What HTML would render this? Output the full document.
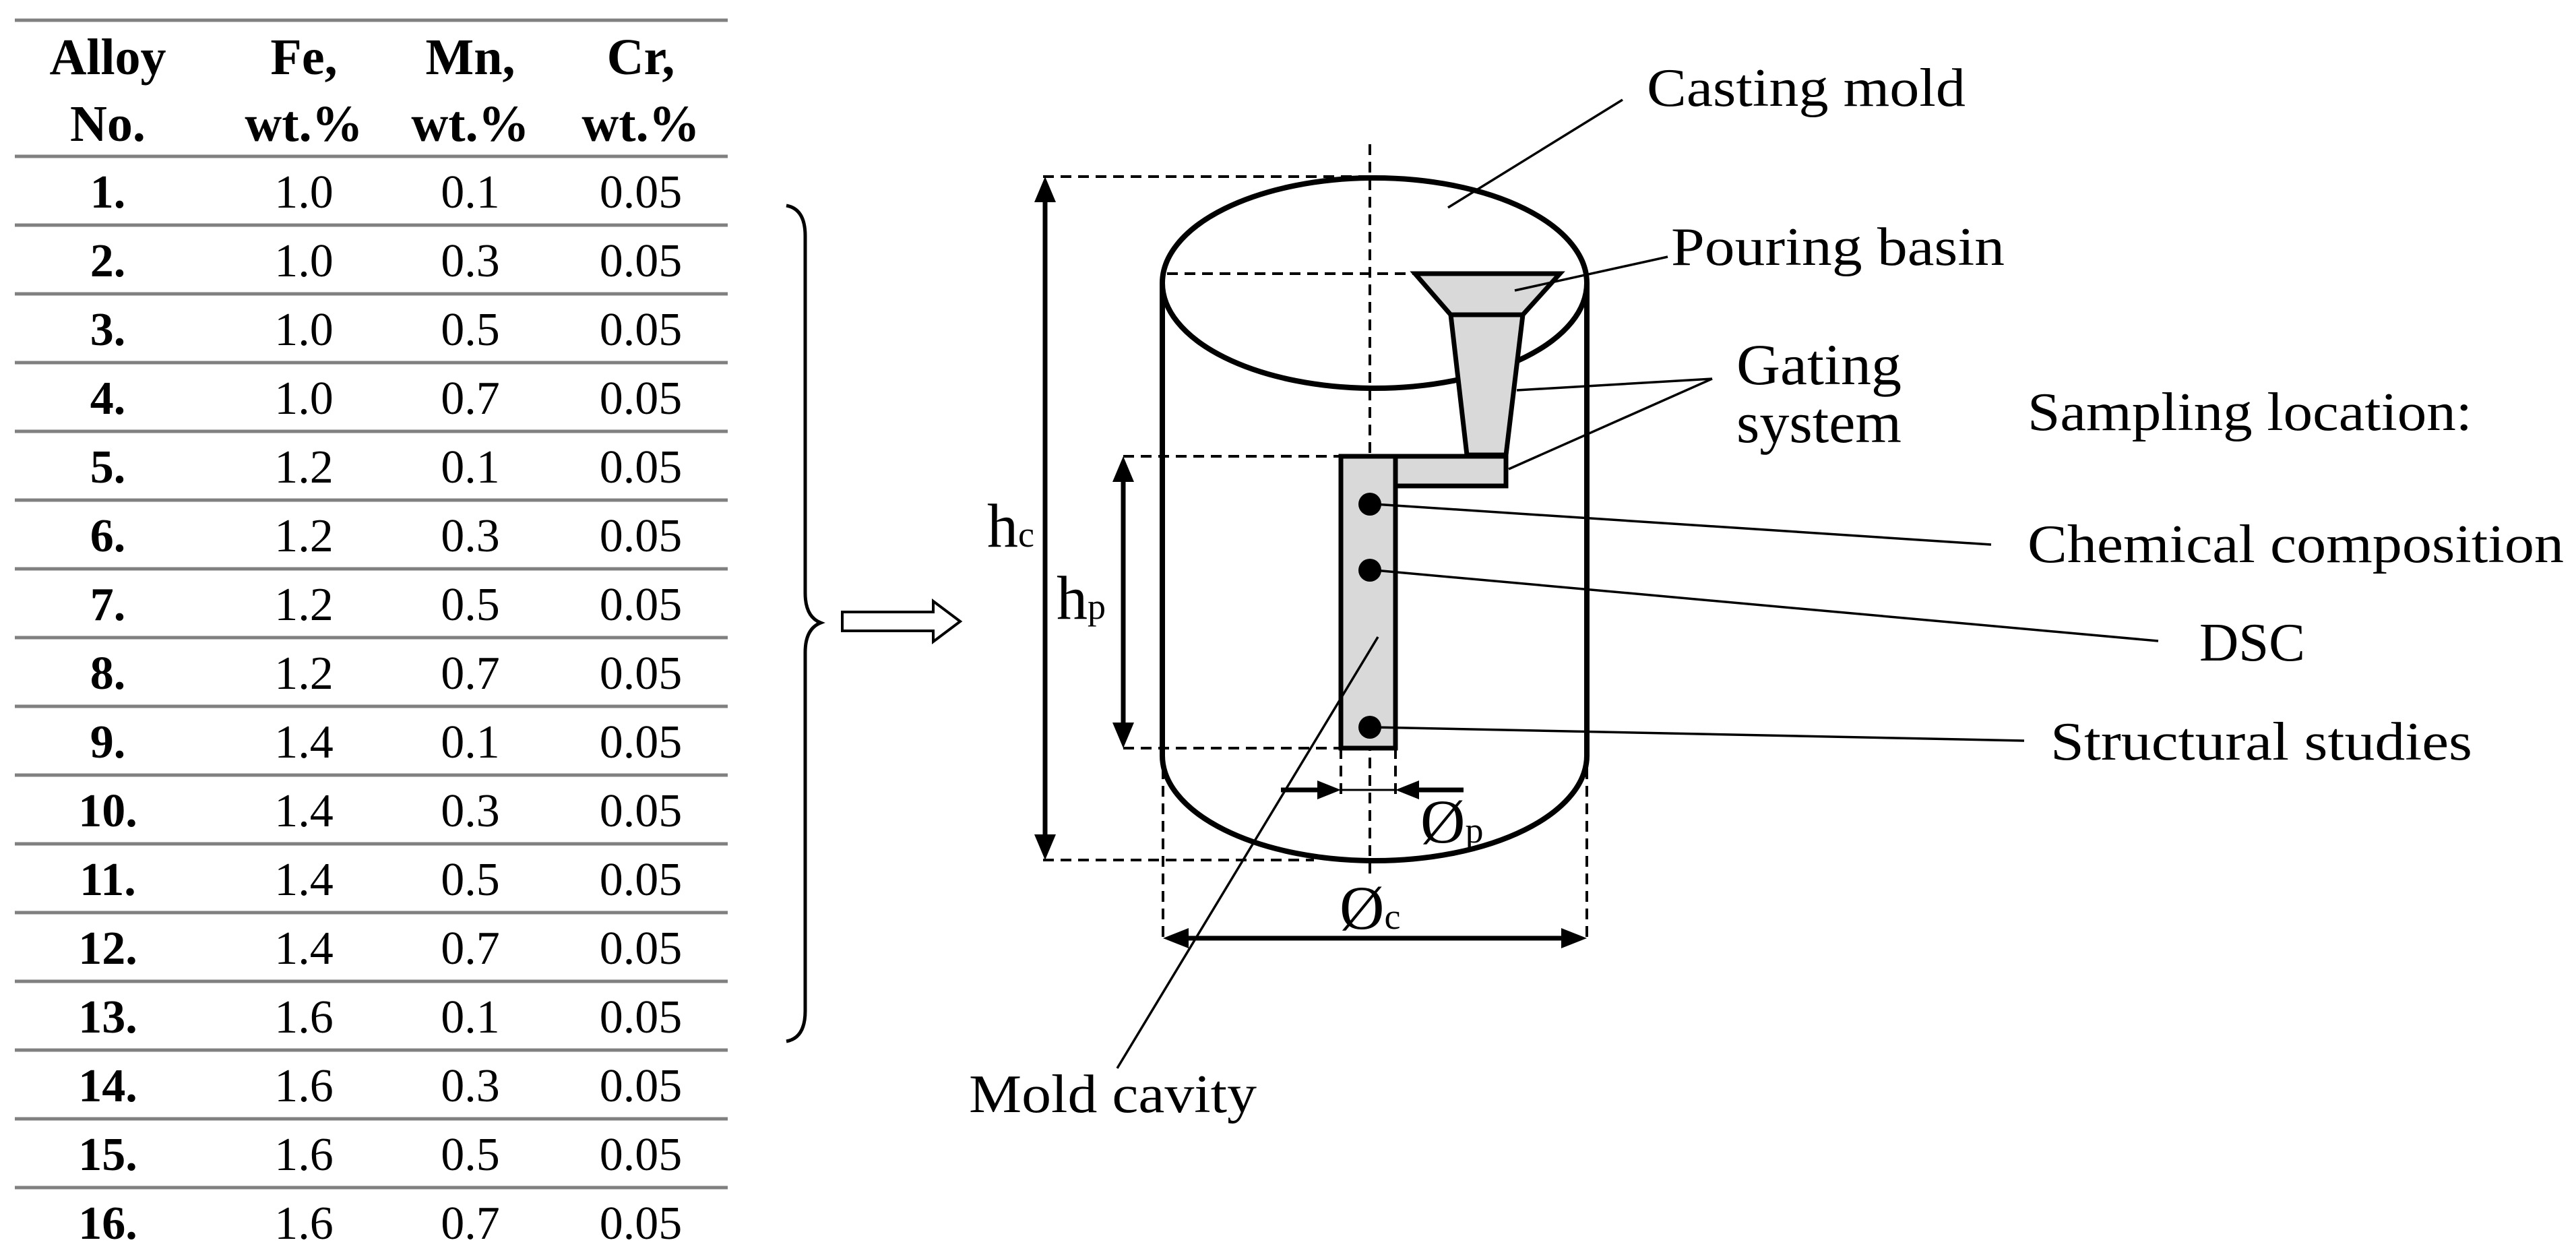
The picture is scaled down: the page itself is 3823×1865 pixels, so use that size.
<!DOCTYPE html>
<html><head><meta charset="utf-8"><style>
html,body{margin:0;padding:0;background:#fff}
svg{display:block}
text{font-family:"Liberation Serif",serif;fill:#000}
</style></head><body>
<svg width="3823" height="1865" viewBox="0 0 3823 1865" xmlns="http://www.w3.org/2000/svg">
<g stroke="#808080" stroke-width="5">
<line x1="22" y1="30" x2="1080" y2="30"/>
<line x1="22" y1="232" x2="1080" y2="232"/>
<line x1="22" y1="334" x2="1080" y2="334"/><line x1="22" y1="436" x2="1080" y2="436"/>
<line x1="22" y1="538" x2="1080" y2="538"/><line x1="22" y1="640" x2="1080" y2="640"/>
<line x1="22" y1="742" x2="1080" y2="742"/><line x1="22" y1="844" x2="1080" y2="844"/>
<line x1="22" y1="946" x2="1080" y2="946"/><line x1="22" y1="1048" x2="1080" y2="1048"/>
<line x1="22" y1="1150" x2="1080" y2="1150"/><line x1="22" y1="1252" x2="1080" y2="1252"/>
<line x1="22" y1="1354" x2="1080" y2="1354"/><line x1="22" y1="1456" x2="1080" y2="1456"/>
<line x1="22" y1="1558" x2="1080" y2="1558"/><line x1="22" y1="1660" x2="1080" y2="1660"/>
<line x1="22" y1="1762" x2="1080" y2="1762"/>
</g>
<g font-size="76" text-anchor="middle" font-weight="bold">
<text x="160" y="110">Alloy</text><text x="451" y="110">Fe,</text><text x="698" y="110">Mn,</text><text x="951" y="110">Cr,</text>
<text x="160" y="209">No.</text><text x="451" y="209">wt.%</text><text x="698" y="209">wt.%</text><text x="951" y="209">wt.%</text>
</g>
<g font-size="70" text-anchor="middle">
<g font-weight="bold">
<text x="160" y="308">1.</text><text x="160" y="410">2.</text><text x="160" y="512">3.</text><text x="160" y="614">4.</text>
<text x="160" y="716">5.</text><text x="160" y="818">6.</text><text x="160" y="920">7.</text><text x="160" y="1022">8.</text>
<text x="160" y="1124">9.</text><text x="160" y="1226">10.</text><text x="160" y="1328">11.</text><text x="160" y="1430">12.</text>
<text x="160" y="1532">13.</text><text x="160" y="1634">14.</text><text x="160" y="1736">15.</text><text x="160" y="1838">16.</text>
</g>
<text x="451" y="308">1.0</text><text x="451" y="410">1.0</text><text x="451" y="512">1.0</text><text x="451" y="614">1.0</text>
<text x="451" y="716">1.2</text><text x="451" y="818">1.2</text><text x="451" y="920">1.2</text><text x="451" y="1022">1.2</text>
<text x="451" y="1124">1.4</text><text x="451" y="1226">1.4</text><text x="451" y="1328">1.4</text><text x="451" y="1430">1.4</text>
<text x="451" y="1532">1.6</text><text x="451" y="1634">1.6</text><text x="451" y="1736">1.6</text><text x="451" y="1838">1.6</text>
<text x="698" y="308">0.1</text><text x="698" y="410">0.3</text><text x="698" y="512">0.5</text><text x="698" y="614">0.7</text>
<text x="698" y="716">0.1</text><text x="698" y="818">0.3</text><text x="698" y="920">0.5</text><text x="698" y="1022">0.7</text>
<text x="698" y="1124">0.1</text><text x="698" y="1226">0.3</text><text x="698" y="1328">0.5</text><text x="698" y="1430">0.7</text>
<text x="698" y="1532">0.1</text><text x="698" y="1634">0.3</text><text x="698" y="1736">0.5</text><text x="698" y="1838">0.7</text>
<text x="951" y="308">0.05</text><text x="951" y="410">0.05</text><text x="951" y="512">0.05</text><text x="951" y="614">0.05</text>
<text x="951" y="716">0.05</text><text x="951" y="818">0.05</text><text x="951" y="920">0.05</text><text x="951" y="1022">0.05</text>
<text x="951" y="1124">0.05</text><text x="951" y="1226">0.05</text><text x="951" y="1328">0.05</text><text x="951" y="1430">0.05</text>
<text x="951" y="1532">0.05</text><text x="951" y="1634">0.05</text><text x="951" y="1736">0.05</text><text x="951" y="1838">0.05</text>
</g>
<path d="M1167,305 Q1195,310 1195,350 L1195,880 Q1195,915 1218,924 Q1195,933 1195,968 L1195,1500 Q1195,1540 1167,1545" fill="none" stroke="#000" stroke-width="5"/>
<path d="M1250,908 L1385,908 L1385,892 L1425,922 L1385,952 L1385,936 L1250,936 Z" fill="#fff" stroke="#000" stroke-width="4"/>
<g fill="none" stroke="#000" stroke-dasharray="16,10" stroke-width="4">
<line x1="1548" y1="262" x2="2040" y2="262"/>
<line x1="1548" y1="1276" x2="1950" y2="1276"/>
<line x1="1732" y1="406" x2="2315" y2="406"/>
<line x1="2033" y1="214" x2="2033" y2="1300"/>
<line x1="1667" y1="677" x2="1990" y2="677"/>
<line x1="1667" y1="1110" x2="1990" y2="1110"/>
<line x1="1990" y1="1110" x2="1990" y2="1180"/>
<line x1="2071" y1="1110" x2="2071" y2="1180"/>
<line x1="1726" y1="1140" x2="1726" y2="1400"/>
<line x1="2355" y1="1140" x2="2355" y2="1400"/>
</g>
<g fill="none" stroke="#000" stroke-width="8">
<ellipse cx="2040" cy="420" rx="315" ry="156"/>
<line x1="1725" y1="420" x2="1725" y2="1121"/>
<line x1="2355" y1="420" x2="2355" y2="1121"/>
<path d="M1725,1121 A315,156 0 0 0 2355,1121"/>
</g>
<g fill="#d9d9d9" stroke="#000" stroke-width="7">
<path d="M2100,406 L2315,406 L2260,467 L2153,467 Z"/>
<path d="M2153,467 L2260,467 L2235,675 L2177,675 Z"/>
<rect x="2068" y="677" width="167" height="44"/>
<rect x="1990" y="677" width="81" height="433"/>
</g>
<g fill="#000">
<circle cx="2033" cy="748" r="17"/>
<circle cx="2033" cy="846" r="17"/>
<circle cx="2033" cy="1079" r="17"/>
</g>
<g stroke="#000" stroke-width="7" fill="#000">
<line x1="1551" y1="295" x2="1551" y2="1243"/>
<path d="M1551,262 L1535,300 L1567,300 Z" stroke="none"/>
<path d="M1551,1276 L1535,1238 L1567,1238 Z" stroke="none"/>
<line x1="1667" y1="710" x2="1667" y2="1077"/>
<path d="M1667,677 L1651,715 L1683,715 Z" stroke="none"/>
<path d="M1667,1110 L1651,1072 L1683,1072 Z" stroke="none"/>
<line x1="1901" y1="1172" x2="1960" y2="1172"/>
<path d="M1990,1172 L1955,1158 L1955,1186 Z" stroke="none"/>
<line x1="2100" y1="1172" x2="2172" y2="1172"/>
<path d="M2071,1172 L2106,1158 L2106,1186 Z" stroke="none"/>
<line x1="1760" y1="1392" x2="2320" y2="1392"/>
<path d="M1726,1392 L1764,1377 L1764,1407 Z" stroke="none"/>
<path d="M2355,1392 L2317,1377 L2317,1407 Z" stroke="none"/>
</g>
<line x1="1990" y1="1172" x2="2071" y2="1172" stroke="#000" stroke-width="3"/>
<g stroke="#000" stroke-width="3.5">
<line x1="2149" y1="308" x2="2408" y2="148"/>
<line x1="2248" y1="431" x2="2475" y2="381"/>
<line x1="2251" y1="579" x2="2541" y2="562"/>
<line x1="2239" y1="696" x2="2541" y2="562"/>
<line x1="2040" y1="748" x2="2955" y2="808"/>
<line x1="2040" y1="846" x2="3203" y2="951"/>
<line x1="2040" y1="1079" x2="3004" y2="1099"/>
<line x1="2045" y1="945" x2="1658" y2="1585"/>
</g>
<g font-size="80">
<text x="2444" y="157" textLength="473" lengthAdjust="spacingAndGlyphs">Casting mold</text>
<text x="2480" y="393" textLength="495" lengthAdjust="spacingAndGlyphs">Pouring basin</text>
<text x="2577" y="570" font-size="86" textLength="245" lengthAdjust="spacingAndGlyphs">Gating</text>
<text x="2577" y="656" font-size="86" textLength="245" lengthAdjust="spacingAndGlyphs">system</text>
<text x="3009" y="638" textLength="660" lengthAdjust="spacingAndGlyphs">Sampling location:</text>
<text x="3009" y="834" textLength="796" lengthAdjust="spacingAndGlyphs">Chemical composition</text>
<text x="3264" y="980" textLength="157" lengthAdjust="spacingAndGlyphs">DSC</text>
<text x="3043" y="1127" textLength="626" lengthAdjust="spacingAndGlyphs">Structural studies</text>
<text x="1438" y="1650" textLength="427" lengthAdjust="spacingAndGlyphs">Mold cavity</text>
<g font-size="92">
<text x="1465" y="811">h<tspan font-size="54">c</tspan></text>
<text x="1568" y="918">h<tspan font-size="54">p</tspan></text>
<text x="2108" y="1250">Ø<tspan font-size="54">p</tspan></text>
<text x="1988" y="1378">Ø<tspan font-size="54">c</tspan></text>
</g>
</g>
</svg>
</body></html>
